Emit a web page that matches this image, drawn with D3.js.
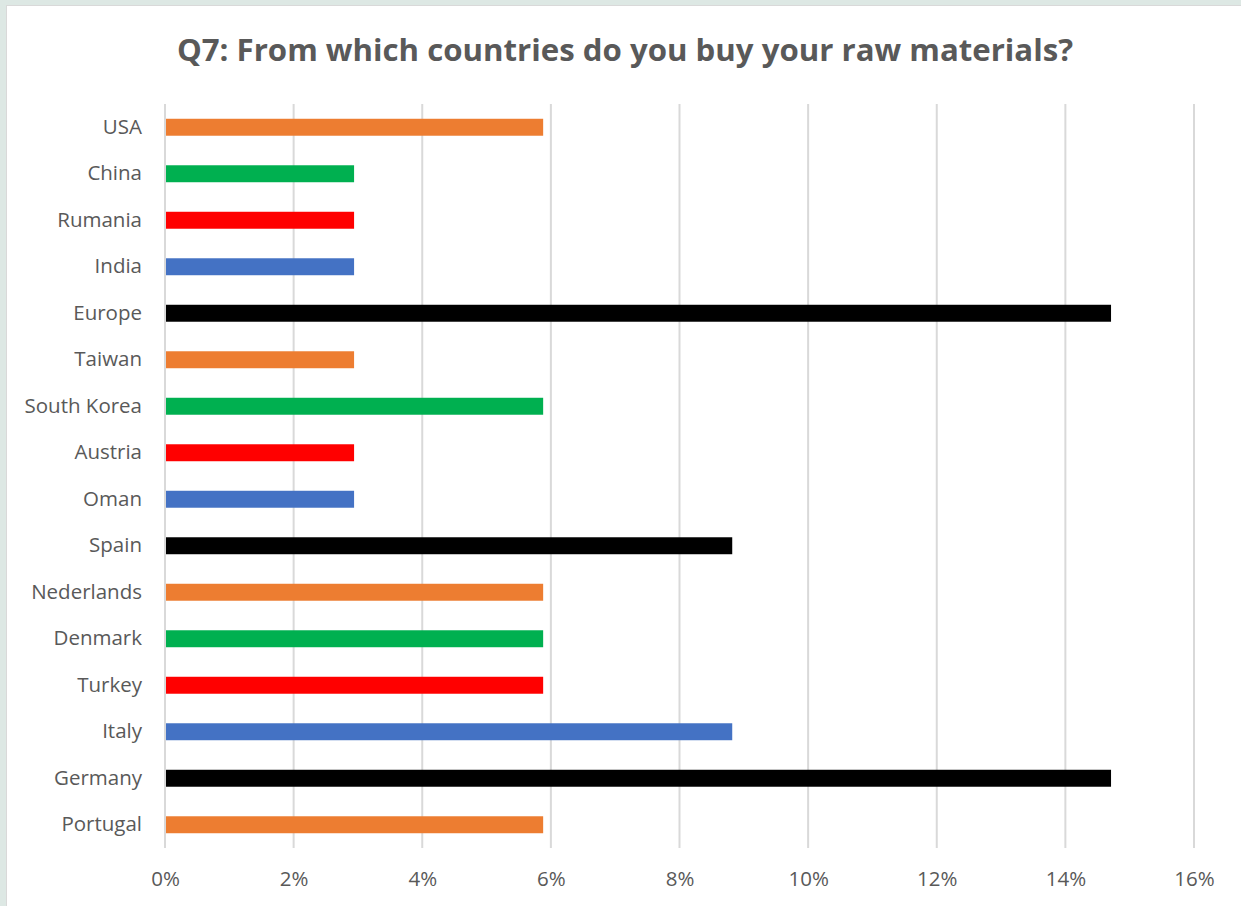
<!DOCTYPE html>
<html><head><meta charset="utf-8">
<script src="https://cdn.jsdelivr.net/npm/d3@7"></script>
<style>
html,body{margin:0;padding:0;background:#dde8e4;}
svg{display:block;}
</style></head>
<body>
<svg id="c" width="1241" height="906"></svg>
<script>
const categories = ["USA","China","Rumania","India","Europe","Taiwan","South Korea","Austria","Oman","Spain","Nederlands","Denmark","Turkey","Italy","Germany","Portugal"];
const values = [5.88,2.94,2.94,2.94,14.71,2.94,5.88,2.94,2.94,8.82,5.88,5.88,5.88,8.82,14.71,5.88];
const colors = ["#ED7D31","#00B050","#FF0000","#4472C4","#000000","#ED7D31","#00B050","#FF0000","#4472C4","#000000","#ED7D31","#00B050","#FF0000","#4472C4","#000000","#ED7D31"];
const xTicks = [0,2,4,6,8,10,12,14,16];
const title = "Q7: From which countries do you buy your raw materials?";

const svg = d3.select("#c");
const font = "'Open Sans', sans-serif";
svg.append("rect").attr("x",6.5).attr("y",5.5).attr("width",1240).attr("height",906)
  .attr("fill","#fff").attr("stroke","#d9d9d9").attr("stroke-width",1);

const m = {left:165, right:1194, top:104, bottom:848};
const x = d3.scaleLinear().domain([0,16]).range([m.left,m.right]);
const y = d3.scaleBand().domain(categories).range([m.top,m.bottom]).paddingInner(0.635).paddingOuter(0.3175);

svg.append("text").attr("x",625).attr("y",61).attr("text-anchor","middle")
  .attr("font-family",font).attr("font-weight","bold").attr("font-size",31.2)
  .attr("fill","#595959").text(title);

const grid = svg.append("g");
grid.selectAll("line").data(xTicks).join("line")
  .attr("x1",d=>x(d)).attr("x2",d=>x(d)).attr("y1",m.top).attr("y2",m.bottom)
  .attr("stroke","#d9d9d9").attr("stroke-width",2);

svg.append("g").selectAll("rect").data(values).join("rect")
  .attr("x",x(0)+1).attr("y",(d,i)=>y(categories[i]))
  .attr("width",d=>x(d)-x(0)-1).attr("height",y.bandwidth())
  .attr("fill",(d,i)=>colors[i]);

const yAxis = svg.append("g").attr("transform",`translate(${m.left},0)`)
  .call(d3.axisLeft(y).tickSize(0).tickPadding(23));
yAxis.select(".domain").remove();
yAxis.selectAll("text").attr("font-family",font).attr("font-size",20.5).attr("fill","#595959");

const xAxis = svg.append("g").attr("transform",`translate(0,${m.bottom})`)
  .call(d3.axisBottom(x).tickValues(xTicks).tickFormat(d=>d+"%").tickSize(0).tickPadding(23));
xAxis.select(".domain").remove();
xAxis.selectAll("text").attr("font-family",font).attr("font-size",20.5).attr("fill","#595959");
</script>
</body></html>
